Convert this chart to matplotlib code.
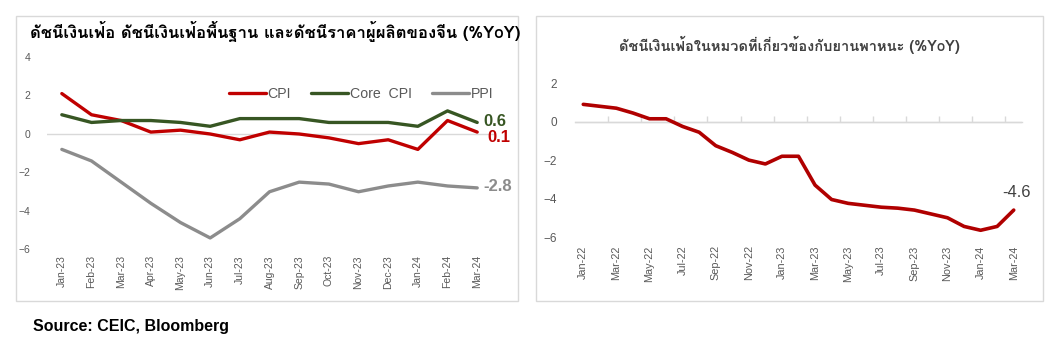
import matplotlib
matplotlib.use("Agg")
import matplotlib.pyplot as plt
from matplotlib.patches import Rectangle

plt.rcParams['font.family'] = ['Liberation Sans', 'Loma', 'DejaVu Sans']

# ---- data: China CPI / core CPI / PPI (%YoY)
months_l = ["Jan-23", "Feb-23", "Mar-23", "Apr-23", "May-23", "Jun-23", "Jul-23",
            "Aug-23", "Sep-23", "Oct-23", "Nov-23", "Dec-23", "Jan-24", "Feb-24", "Mar-24"]
cpi = [2.1, 1.0, 0.7, 0.1, 0.2, 0.0, -0.3, 0.1, 0.0, -0.2, -0.5, -0.3, -0.8, 0.7, 0.1]
core_cpi = [1.0, 0.6, 0.7, 0.7, 0.6, 0.4, 0.8, 0.8, 0.8, 0.6, 0.6, 0.6, 0.4, 1.2, 0.6]
ppi = [-0.8, -1.4, -2.5, -3.6, -4.6, -5.4, -4.4, -3.0, -2.5, -2.6, -3.0, -2.7, -2.5, -2.7, -2.8]

# ---- data: vehicle-related inflation (%YoY)
months_r = ["Jan-22", "Feb-22", "Mar-22", "Apr-22", "May-22", "Jun-22", "Jul-22", "Aug-22",
            "Sep-22", "Oct-22", "Nov-22", "Dec-22", "Jan-23", "Feb-23", "Mar-23", "Apr-23",
            "May-23", "Jun-23", "Jul-23", "Aug-23", "Sep-23", "Oct-23", "Nov-23", "Dec-23",
            "Jan-24", "Feb-24", "Mar-24"]
vehicle = [0.9, 0.8, 0.7, 0.45, 0.15, 0.15, -0.25, -0.55, -1.25, -1.6, -2.0, -2.2,
           -1.8, -1.8, -3.3, -4.05, -4.25, -4.35, -4.45, -4.5, -4.6, -4.8, -5.0, -5.45,
           -5.65, -5.45, -4.6]

RED = "#c00000"
GREEN = "#375623"
GRAY = "#8c8c8c"
TICK = "#595959"
BORDER = "#d9d9d9"

fig = plt.figure(figsize=(10.52, 3.51), dpi=100)

# panel borders
for x0, x1 in [(16, 518), (536, 1043)]:
    fig.patches.append(Rectangle((x0 / 1052, 1 - 301 / 351), (x1 - x0) / 1052, 285 / 351,
                                 transform=fig.transFigure, fill=False, ec=BORDER, lw=1))

# ---------------- left chart
ax = fig.add_axes([47 / 1052, 1 - 249.5 / 351, 448 / 1052, 192.5 / 351])
x = list(range(len(months_l)))
ax.plot(x, cpi, color=RED, lw=2.4, label="CPI", solid_capstyle="round")
ax.plot(x, core_cpi, color=GREEN, lw=2.4, label="Core  CPI", solid_capstyle="round")
ax.plot(x, ppi, color=GRAY, lw=2.4, label="PPI", solid_capstyle="round")
ax.axhline(0, color=BORDER, lw=1, zorder=0)
ax.set_xlim(-0.5, 14.6)
ax.set_ylim(-6, 4)
ax.set_yticks([-6, -4, -2, 0, 2, 4])
ax.set_xticks(x)
ax.set_xticklabels(months_l, rotation=90)
ax.tick_params(length=0, labelsize=7.5, colors=TICK, pad=4)
ax.tick_params(axis='y', pad=12)
for s in ax.spines.values():
    s.set_visible(False)

ax.text(x[-1] + 0.22, core_cpi[-1] + 0.05, f"{core_cpi[-1]:.1f}", color=GREEN, fontsize=12,
        fontweight="bold", va="center", ha="left")
ax.text(x[-1] + 0.35, cpi[-1] - 0.3, f"{cpi[-1]:.1f}", color=RED, fontsize=12,
        fontweight="bold", va="center", ha="left")
ax.text(x[-1] + 0.22, ppi[-1] + 0.05, f"{ppi[-1]:.1f}", color=GRAY, fontsize=12,
        fontweight="bold", va="center", ha="left")

leg = ax.legend(loc="center right", bbox_to_anchor=(1.025, 0.81), ncol=3, frameon=False,
                fontsize=10.2, handlelength=2.6, handletextpad=0.15, columnspacing=1.4)
for t in leg.get_texts():
    t.set_color(TICK)

fig.text(30 / 1052, 1 - 31 / 351,
         "ดัชนีเงินเฟ้อ ดัชนีเงินเฟ้อพื้นฐาน และดัชนีราคาผู้ผลิตของจีน (%YoY)",
         family=['Loma'], fontsize=12, fontweight="bold", va="center", ha="left", color="black")

# ---------------- right chart
ax2 = fig.add_axes([575 / 1052, 1 - 237 / 351, 447 / 1052, 173 / 351])
xr = list(range(len(months_r)))
ax2.plot(xr, vehicle, color="#b00000", lw=2.6, solid_capstyle="round")
ax2.axhline(0, color=BORDER, lw=1, zorder=0)
ax2.set_xlim(-0.5, 26.5)
ax2.set_ylim(-6, 3)
ax2.set_yticks([-6, -4, -2, 0, 2])
ax2.set_xticks(xr[::2])
ax2.set_xticklabels(months_r[::2], rotation=90)
ax2.tick_params(length=0, labelsize=7.8, colors=TICK, pad=6)
ax2.tick_params(axis='y', pad=13, labelsize=8.5)
for s in ax2.spines.values():
    s.set_visible(False)
# small tick marks hanging from the zero line
ymin, ymax = ax2.get_ylim()
sec = ax2.secondary_xaxis((0 - ymin) / (ymax - ymin))
sec.set_xticks([i + 1.5 for i in xr[::2][:-1]])
sec.set_xticklabels([])
sec.tick_params(length=4, color=BORDER, width=1)
for s in sec.spines.values():
    s.set_color(BORDER)
    s.set_linewidth(1)

ax2.annotate(f"{vehicle[-1]:.1f}", (xr[-1], vehicle[-1]), xytext=(2, 13),
             textcoords="offset points", ha="center", va="center", fontsize=12, color="#404040")

fig.text(789 / 1052, 1 - 45 / 351, "ดัชนีเงินเฟ้อในหมวดที่เกี่ยวข้องกับยานพาหนะ (%YoY)",
         family=['Loma'], fontsize=10.5, fontweight="bold", va="center", ha="center",
         color="#404040")

fig.text(33 / 1052, 1 - 327 / 351, "Source: CEIC, Bloomberg", fontsize=11.5, fontweight="bold",
         va="center", ha="left", color="black")

fig.savefig("out.png", dpi=100)
